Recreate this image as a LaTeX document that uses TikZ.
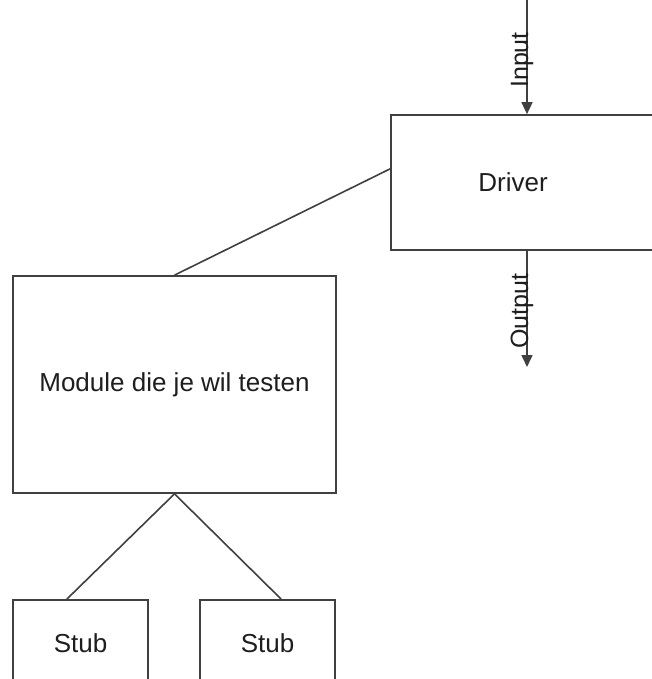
\documentclass[tikz,border=0pt]{standalone}
\usepackage{fontspec}
\setmainfont{Liberation Sans}
\usetikzlibrary{arrows.meta,calc}
\definecolor{linec}{HTML}{404040}
\definecolor{textc}{HTML}{1E1E1E}
\tikzset{
  boxnode/.style={draw=linec, line width=1.7pt, rectangle, inner sep=0pt, text=textc, font=\fontsize{26}{30}\selectfont},
  txtnode/.style={text=textc, inner sep=0pt, font=\fontsize{26}{30}\selectfont},
  conn/.style={draw=linec, line width=1.6pt},
  arr/.style={draw=linec, line width=1.6pt, -{Triangle[width=11pt,length=12pt]}},
  rotlabel/.style={text=textc, inner sep=0pt, rotate=90, anchor=base, font=\fontsize{25}{29}\selectfont}
}
\begin{document}
\begin{tikzpicture}[x=1pt,y=-1pt]
\useasboundingbox (0,0) rectangle (652,679);
\clip (0,0) rectangle (652,679);
\fill[white] (0,0) rectangle (652,679);
% Driver box (extends past the right edge)
\node[boxnode, minimum width=329pt, minimum height=135pt] (driver) at (555.5,182.5) {};
\node[txtnode] (drivertxt) at (513,182.5) {Driver};
% Module box
\node[boxnode, minimum width=323pt, minimum height=217pt] (module) at (174.5,384.5) {Module die je wil testen};
% Stubs (extend past the bottom edge)
\node[boxnode, minimum width=135pt, minimum height=140pt] (stubA) at (80.5,670) {};
\node[txtnode] (stubAtxt) at (80.5,643) {Stub};
\node[boxnode, minimum width=135pt, minimum height=140pt] (stubB) at (267.5,670) {};
\node[txtnode] (stubBtxt) at (267.5,643) {Stub};
% connectors
\draw[conn] ($(driver.north west)!0.4!(driver.south west)$) -- (module.north);
\draw[conn] (module.south) -- ($(stubA.north west)!0.4!(stubA.north east)$);
\draw[conn] (module.south) -- ($(stubB.north west)!0.6!(stubB.north east)$);
% input / output
\coordinate (inTop) at (527,-2);
\coordinate (outEnd) at (527,367);
\draw[arr] (inTop) -- (inTop |- driver.north);
\draw[arr] (outEnd |- driver.south) -- (outEnd);
\node[rotlabel] (inlbl) at (528,60) {Input};
\node[rotlabel] (outlbl) at (528,311) {Output};
\end{tikzpicture}
\end{document}
